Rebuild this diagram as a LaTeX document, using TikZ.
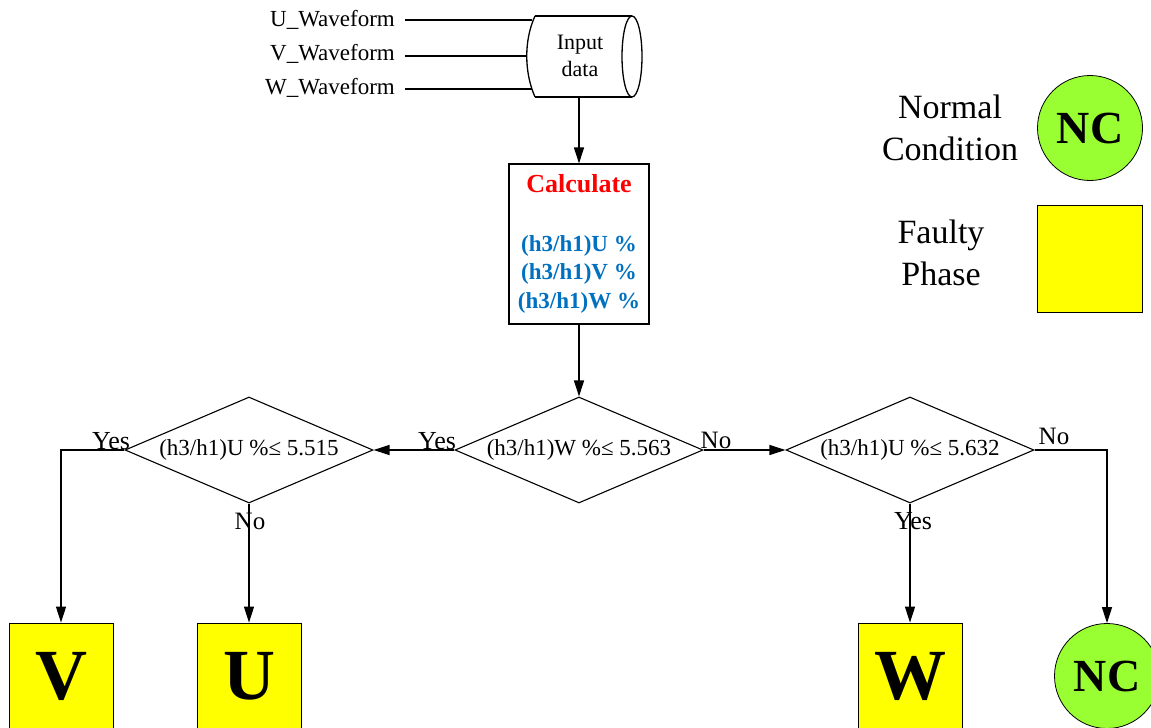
\documentclass[tikz,border=0pt]{standalone}
\usepackage{fontspec}
\setmainfont{Liberation Serif}
\usetikzlibrary{shapes.geometric,arrows.meta}
\definecolor{ngreen}{RGB}{153,255,51}
\definecolor{fyellow}{RGB}{255,255,0}
\definecolor{cblue}{RGB}{0,112,192}
\begin{document}
\begin{tikzpicture}[x=1pt,y=-1pt,
  conn/.style={line width=1.3pt,-{Triangle[length=16pt,width=10pt]}},
  plain/.style={line width=1.3pt},
  lbl/.style={font=\fontsize{25}{29}\selectfont,inner sep=0pt},
  wave/.style={font=\fontsize{23}{27}\selectfont,inner sep=0pt,anchor=east},
  dec/.style={diamond,draw,line width=1.1pt,aspect=2.34,inner sep=0pt,
    minimum width=248pt,minimum height=106pt,font=\fontsize{23}{27}\selectfont},
  phase/.style={draw,line width=0.8pt,fill=fyellow,minimum width=104pt,
    minimum height=106pt,inner sep=0pt,font=\bfseries\fontsize{72}{72}\selectfont},
  nc/.style={circle,draw,line width=0.8pt,fill=ngreen,minimum size=105pt,
    inner sep=0pt,font=\bfseries\fontsize{46}{46}\selectfont},
  legend/.style={align=center,font=\fontsize{34}{42}\selectfont,inner sep=0pt}]
\useasboundingbox (0,0) rectangle (1151,728);
\clip (0,0) rectangle (1151,728);

% input cylinder
\node[align=center,inner sep=0pt,font=\fontsize{22}{27}\selectfont] (inp) at (580,56) {Input\\data};
\draw[plain] (535,16) -- (632,16);
\draw[plain] (535,97) -- (632,97);
\draw[plain] (535,16) .. controls (524,40) and (524,72) .. (535,97);
\draw[plain] (632,56.5) ellipse [x radius=10,y radius=40.5];
\coordinate (cu) at (532,20);
\coordinate (cv) at (527,56);
\coordinate (cw) at (532,89);
\coordinate (cylb) at (579,97);

\node[wave] (ul) at (395,20) {U\_Waveform};
\node[wave] (vl) at (395,54) {V\_Waveform};
\node[wave] (wl) at (395,88) {W\_Waveform};
\draw[plain] ([xshift=10pt]ul.east |- cu) -- (cu);
\draw[plain] ([xshift=10pt]vl.east |- cv) -- (cv);
\draw[plain] ([xshift=10pt]wl.east |- cw) -- (cw);

% calculate box
\node[draw,line width=1.1pt,minimum width=140pt,minimum height=160pt,inner sep=0pt,
  align=center,font=\bfseries\fontsize{23}{28.5}\selectfont] (calc) at (579,244)
  {{\color{red}\fontsize{26}{28.5}\selectfont Calculate}\\[30pt]
   \color{cblue}(h3/h1)U \%\\ \color{cblue}(h3/h1)V \%\\ \color{cblue}(h3/h1)W \%};

% decisions
\node[dec] (d1) at (249,450) {(h3/h1)U \%≤ 5.515};
\node[dec] (d2) at (579,450) {(h3/h1)W \%≤ 5.563};
\node[dec] (d3) at (910,450) {(h3/h1)U \%≤ 5.632};

% outcomes
\node[phase] (bv) at (61,676) {V};
\node[phase] (bu) at (249,676) {U};
\node[phase] (bw) at (910,676) {W};
\node[nc] (nc2) at (1107,676) {NC};

% legend
\node[legend] (lnorm) at (950,128) {Normal\\Condition};
\node[nc] (lnc) at (1090,128) {NC};
\node[legend] (lfault) at (941,253) {Faulty\\Phase};
\node[draw,line width=0.8pt,fill=fyellow,minimum width=105pt,minimum height=107pt,inner sep=0pt] (lsq) at (1089.5,258.5) {};

% connectors
\draw[conn] (cylb) -- (calc.north);
\draw[conn] (calc.south) -- (d2.north);
\draw[conn] (d2.west) -- (d1.east);
\draw[conn] (d2.east) -- (d3.west);
\draw[conn] (d1.west) -| (bv.north);
\draw[conn] (d1.south) -- (bu.north);
\draw[conn] (d3.south) -- (bw.north);
\draw[conn] (d3.east) -| (nc2.north);

% labels
\node[lbl,anchor=base,font=\fontsize{26}{29}\selectfont] (y1) at (111,449) {Yes};
\node[lbl,anchor=base,font=\fontsize{26}{29}\selectfont] (y2) at (437,449) {Yes};
\node[lbl,anchor=base] (n1) at (716,448) {No};
\node[lbl,anchor=base] (n2) at (250,529) {No};
\node[lbl,anchor=base,font=\fontsize{26}{29}\selectfont] (y3) at (913,529) {Yes};
\node[lbl,anchor=base] (n3) at (1054,444) {No};
\end{tikzpicture}
\end{document}
